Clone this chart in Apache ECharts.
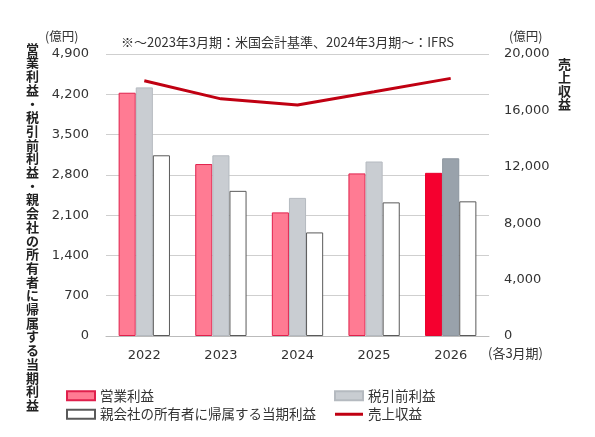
<!DOCTYPE html>
<html>
<head>
<meta charset="utf-8">
<script src="https://cdn.jsdelivr.net/npm/echarts@6/dist/echarts.min.js"></script>
<style>
  html, body { margin: 0; padding: 0; background: #fff; }
  #main { width: 595px; height: 437px; }
</style>
</head>
<body>
<div id="main"></div>
<script>
var years = ['2022', '2023', '2024', '2025', '2026'];
var opProfit = [4227, 2988, 2148, 2825, 2835];
var preTax = [4320, 3140, 2400, 3032, 3088];
var netIncome = [3140, 2522, 1800, 2322, 2340];
var revenue = [18100, 16820, 16380, 17320, 18270];
var leftTicks = [0, 700, 1400, 2100, 2800, 3500, 4200, 4900];
var rightTicks = [0, 4000, 8000, 12000, 16000, 20000];

var FONT = '"Noto Sans CJK JP", "Noto Sans", sans-serif';
var NUMFONT = '"DejaVu Sans", sans-serif';

function colorLast(arr, base, last, border, lastBorder) {
	return arr.map(function(v, i) {
		var isLast = i === arr.length - 1;
		return {
			value: v,
			itemStyle: {
				color: isLast ? last : base,
				borderColor: isLast ? lastBorder : border
			}
		};
	});
}

function fmt(v) {
	return v.toLocaleString('en-US');
}

var chart = echarts.init(document.getElementById('main'));

chart.setOption({
	animation: false,
	textStyle: { fontFamily: FONT },
	grid: { left: 106, right: 106, top: 54, bottom: 101 },
	legend: [{
		left: 61,
		top: 384,
		orient: 'vertical',
		itemWidth: 28,
		itemHeight: 9,
		itemGap: 5,
		textStyle: { fontSize: 13.5, color: '#333', fontFamily: FONT },
		data: [
			{ name: '営業利益', icon: 'rect' },
			{ name: '親会社の所有者に帰属する当期利益', icon: 'rect' }
		]
	}, {
		left: 329,
		top: 384,
		orient: 'vertical',
		itemWidth: 28,
		itemHeight: 9,
		itemGap: 5,
		textStyle: { fontSize: 13.5, color: '#333', fontFamily: FONT },
		data: [
			{ name: '税引前利益', icon: 'rect' },
			{ name: '売上収益', icon: 'path://M0,0 L28,0 L28,3 L0,3 Z' }
		]
	}],
	xAxis: {
		type: 'category',
		data: years,
		axisLine: { lineStyle: { color: '#bbb' } },
		axisTick: { show: false },
		axisLabel: { color: '#333', fontSize: 13, fontFamily: NUMFONT, margin: 13 }
	},
	yAxis: [{
		type: 'value',
		min: leftTicks[0],
		max: leftTicks[leftTicks.length - 1],
		interval: 700,
		axisLabel: { color: '#333', fontSize: 13, fontFamily: NUMFONT, margin: 17, formatter: fmt },
		splitLine: { lineStyle: { color: '#cfcfcf' } },
		axisLine: { show: false },
		axisTick: { show: false }
	}, {
		type: 'value',
		min: rightTicks[0],
		max: rightTicks[rightTicks.length - 1],
		interval: 4000,
		axisLabel: { color: '#333', fontSize: 13, fontFamily: NUMFONT, margin: 15, formatter: fmt },
		splitLine: { show: false },
		axisLine: { show: false },
		axisTick: { show: false }
	}],
	series: [{
		name: '営業利益',
		type: 'bar',
		barCategoryGap: '33%',
		barGap: 0,
		itemStyle: { color: '#ff7b93', borderColor: '#e0204c', borderWidth: 1 },
		data: colorLast(opProfit, '#ff7b93', '#f5002f', '#e0204c', '#e8002c')
	}, {
		name: '税引前利益',
		type: 'bar',
		barGap: 0,
		itemStyle: { color: '#c9cdd2', borderColor: '#b5bac0', borderWidth: 1 },
		data: colorLast(preTax, '#c9cdd2', '#99a2ab', '#b5bac0', '#8d969f')
	}, {
		name: '親会社の所有者に帰属する当期利益',
		type: 'bar',
		barGap: 0,
		itemStyle: { color: '#ffffff', borderColor: '#5a5a5a', borderWidth: 1 },
		data: netIncome
	}, {
		name: '売上収益',
		type: 'line',
		yAxisIndex: 1,
		symbol: 'none',
		lineStyle: { color: '#c00012', width: 3 },
		itemStyle: { color: '#c00012' },
		data: revenue
	}],
	graphic: [{
		type: 'text',
		left: 45, top: 30,
		style: { text: '(億円)', fontSize: 12.5, fill: '#333', fontFamily: FONT }
	}, {
		type: 'text',
		left: 509, top: 30,
		style: { text: '(億円)', fontSize: 12.5, fill: '#333', fontFamily: FONT }
	}, {
		type: 'text',
		left: 121, top: 36,
		style: { text: '※～2023年3月期：米国会計基準、2024年3月期～：IFRS', fontSize: 13, fill: '#333', fontFamily: FONT }
	}, {
		type: 'text',
		left: 488, top: 347,
		style: { text: '(各3月期)', fontSize: 13, fill: '#333', fontFamily: FONT }
	}, {
		type: 'text',
		left: 26, top: 42,
		style: {
			text: '営業利益・税引前利益・親会社の所有者に帰属する当期利益'.split('').join('\n'),
			fontSize: 13, lineHeight: 13.7, fontWeight: 'bold', fill: '#222',
			fontFamily: FONT, align: 'center'
		}
	}, {
		type: 'text',
		left: 558, top: 57,
		style: {
			text: '売上収益'.split('').join('\n'),
			fontSize: 13, lineHeight: 13.5, fontWeight: 'bold', fill: '#222',
			fontFamily: FONT
		}
	}]
});
</script>
</body>
</html>
